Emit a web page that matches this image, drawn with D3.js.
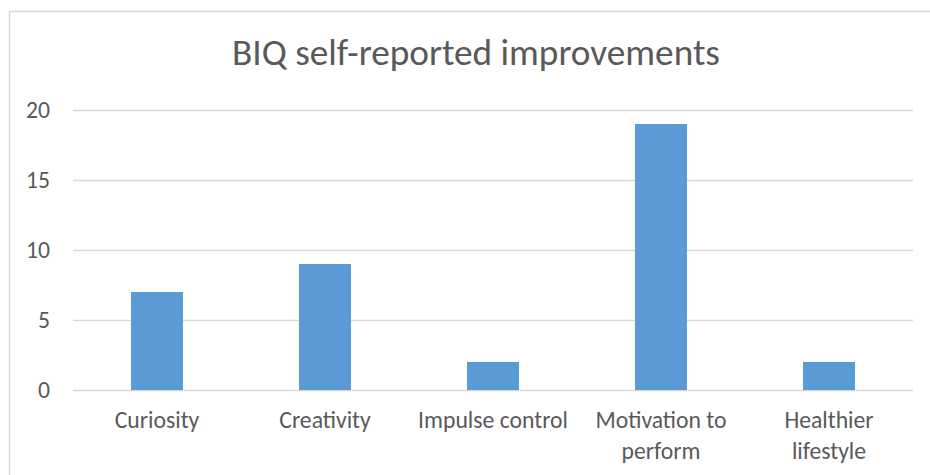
<!DOCTYPE html>
<html>
<head>
<meta charset="utf-8">
<script src="https://cdn.jsdelivr.net/npm/d3@7"></script>
<style>
html,body{margin:0;padding:0;background:#fff;}
svg{display:block;}
text{font-family:Carlito, Calibri, Lato, "Open Sans", sans-serif;fill:#595959;}
</style>
</head>
<body>
<svg id="chart" width="930" height="475"></svg>
<script>
const title = "BIQ self-reported improvements";
const categories = ["Curiosity", "Creativity", "Impulse control", "Motivation to perform", "Healthier lifestyle"];
const categoryLabelLines = [["Curiosity"], ["Creativity"], ["Impulse control"], ["Motivation to", "perform"], ["Healthier", "lifestyle"]];
const values = [7, 9, 2, 19, 2];
const yTicks = [0, 5, 10, 15, 20];

const svg = d3.select("#chart");
const plot = {left: 73, right: 913, top: 110, bottom: 390};

// chart frame
svg.append("rect").attr("x", 9.5).attr("y", 11.5).attr("width", 960).attr("height", 520)
  .attr("fill", "#fff").attr("stroke", "#d9d9d9").attr("stroke-width", 1.5);

const x = d3.scaleBand().domain(categories).range([plot.left, plot.right]).padding(0);
const y = d3.scaleLinear().domain([0, 20]).range([plot.bottom, plot.top]);

// gridlines via axis
const grid = svg.append("g").attr("transform", `translate(${plot.left},0)`)
  .call(d3.axisLeft(y).tickValues(yTicks).tickSize(-(plot.right - plot.left)).tickFormat(""));
grid.select(".domain").remove();
grid.selectAll("line").attr("stroke", "#d9d9d9").attr("stroke-width", 1.4);

// bars
const barFrac = 52 / 168;
svg.append("g").selectAll("rect").data(categories).join("rect")
  .attr("x", (d) => x(d) + x.bandwidth() * (1 - barFrac) / 2)
  .attr("width", x.bandwidth() * barFrac)
  .attr("y", (d, i) => y(values[i]))
  .attr("height", (d, i) => y(0) - y(values[i]))
  .attr("fill", "#5b9bd5");

// fit font sizes by measured width
function fitSize(text, targetWidth, weight) {
  const t = svg.append("text").attr("font-size", 100).attr("font-weight", weight || 400).text(text);
  const w = t.node().getComputedTextLength();
  t.remove();
  return 100 * targetWidth / w;
}
const labelSize = fitSize("Impulse control", 150);
const titleSize = fitSize(title, 488, 300);

// y tick labels
const yAxis = svg.append("g").attr("transform", `translate(50,0)`)
  .call(d3.axisLeft(y).tickValues(yTicks).tickSize(0).tickPadding(0));
yAxis.select(".domain").remove();
yAxis.selectAll("text").attr("font-size", labelSize).attr("fill", "#595959")
  .attr("dy", null).attr("dominant-baseline", "alphabetic")
  .attr("transform", "translate(0,7)")
  .style("font-family", "Carlito, Calibri, Lato, 'Open Sans', sans-serif");

// x category labels
const xAxis = svg.append("g").attr("transform", `translate(0,${plot.bottom})`)
  .call(d3.axisBottom(x).tickSize(0).tickFormat(""));
xAxis.select(".domain").remove();
xAxis.selectAll(".tick").each(function(d, i) {
  const t = d3.select(this).append("text").attr("text-anchor", "middle")
    .attr("font-size", labelSize).attr("fill", "#595959")
    .style("font-family", "Carlito, Calibri, Lato, 'Open Sans', sans-serif");
  categoryLabelLines[i].forEach((line, j) => {
    t.append("tspan").attr("x", 0).attr("y", 38 + j * 31).text(line);
  });
});

// title
svg.append("text").attr("x", 476).attr("y", 65).attr("text-anchor", "middle")
  .attr("font-size", titleSize).attr("font-weight", 300).text(title);
</script>
</body>
</html>
